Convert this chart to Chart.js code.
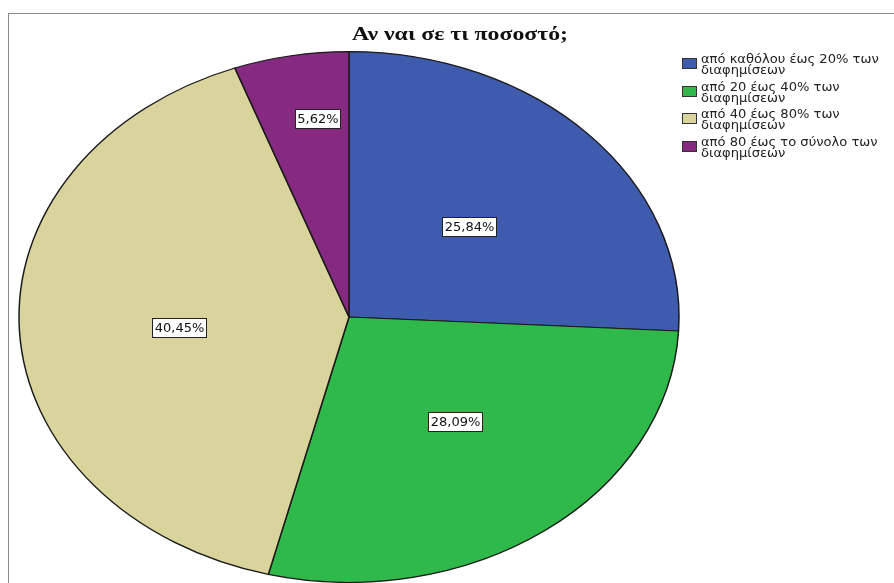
<!DOCTYPE html>
<html>
<head>
<meta charset="utf-8">
<script src="https://cdn.jsdelivr.net/npm/chart.js@4/dist/chart.umd.min.js"></script>
<style>
  html, body { margin: 0; padding: 0; background: #fff; overflow: hidden; }
  #pie { display: block; }
</style>
</head>
<body>
<canvas id="pie" width="894" height="583"></canvas>
<script>
// categories (two lines each, as printed in the legend) and percentages
const titleText = 'Αν ναι σε τι ποσοστό;';
const categories = [
  ['από καθόλου έως 20% των', 'διαφημίσεων'],
  ['από 20 έως 40% των', 'διαφημίσεων'],
  ['από 40 έως 80% των', 'διαφημίσεων'],
  ['από 80 έως το σύνολο των', 'διαφημίσεων']
];
const percents = [25.84, 28.09, 40.45, 5.62];
const sliceColors = ['#3f5bae', '#2eb94a', '#d9d39c', '#852a80'];

const W = 894, H = 583;
const cx = 349, cy = 318;       // pie centre
const ry = 267, rx = 332;       // the pie is stretched into an ellipse
const stretch = rx / ry;

// where each value box sits: fraction of the radius along the mid angle, plus a nudge
const labelSpots = [
  { f: 0.5, dx: 0, dy: 1 },
  { f: 0.5, dx: 8, dy: -2 },
  { f: 0.5, dx: -5, dy: 3 },
  { f: 0.76, dx: 13, dy: 0 }
];

const fmt = v => v.toFixed(2).replace('.', ',') + '%';

// stretch the slices horizontally around the centre
const ellipsePlugin = {
  id: 'ellipse',
  beforeDatasetsDraw(chart) {
    const ctx = chart.ctx;
    const arc = chart.getDatasetMeta(0).data[0];
    ctx.save();
    ctx.translate(arc.x, arc.y);
    ctx.scale(stretch, 1);
    ctx.translate(-arc.x, -arc.y);
  },
  afterDatasetsDraw(chart) {
    chart.ctx.restore();
  }
};

// boxed value labels on each slice
const valueLabels = {
  id: 'valueLabels',
  afterDatasetsDraw(chart) {
    const ctx = chart.ctx;
    const meta = chart.getDatasetMeta(0);
    ctx.save();
    ctx.font = '13px "DejaVu Sans"';
    ctx.textAlign = 'center';
    ctx.textBaseline = 'middle';
    meta.data.forEach((arc, i) => {
      const p = arc.getProps(['x', 'y', 'startAngle', 'endAngle', 'outerRadius'], true);
      const s = labelSpots[i];
      const mid = (p.startAngle + p.endAngle) / 2;
      const x = p.x + Math.cos(mid) * p.outerRadius * s.f * stretch + s.dx;
      const y = p.y + Math.sin(mid) * p.outerRadius * s.f + s.dy;
      const txt = fmt(chart.data.datasets[0].data[i]);
      const w = Math.round(ctx.measureText(txt).width) + 4;
      const h = 19;
      const bx = Math.round(x - w / 2) + 0.5, by = Math.round(y - h / 2) + 0.5;
      ctx.fillStyle = '#fff';
      ctx.fillRect(bx, by, w, h);
      ctx.strokeStyle = '#222';
      ctx.lineWidth = 1;
      ctx.strokeRect(bx, by, w, h);
      ctx.fillStyle = '#111';
      ctx.fillText(txt, bx + w / 2, by + h / 2 + 0.5);
    });
    ctx.restore();
  }
};

// outer frame, title and the legend on the right
const decorations = {
  id: 'decorations',
  afterDraw(chart) {
    const ctx = chart.ctx;
    ctx.save();
    ctx.strokeStyle = '#8a8a8a';
    ctx.lineWidth = 1;
    ctx.strokeRect(8.5, 13.5, 1000, 1000);

    // title, widened to the span of the printed heading
    ctx.fillStyle = '#111';
    ctx.font = 'bold 19px "Liberation Serif"';
    ctx.textAlign = 'center';
    ctx.textBaseline = 'middle';
    const tw = ctx.measureText(titleText).width;
    ctx.save();
    ctx.translate(460, 35);
    ctx.scale(216 / tw, 1);
    ctx.fillText(titleText, 0, 0);
    ctx.restore();

    ctx.font = '12px "DejaVu Sans"';
    ctx.textAlign = 'left';
    chart.data.labels.forEach((lines, i) => {
      const top = 60 + i * 27.6;
      ctx.fillStyle = sliceColors[i];
      ctx.fillRect(682, Math.round(top - 2), 15, 11);
      ctx.strokeStyle = '#333';
      ctx.strokeRect(682.5, Math.round(top - 2) + 0.5, 14, 10);
      ctx.fillStyle = '#222';
      lines.forEach((ln, j) => {
        ctx.save();
        ctx.translate(701, top + j * 11);
        ctx.scale(1.09, 1);
        ctx.fillText(ln, 0, 0);
        ctx.restore();
      });
    });
    ctx.restore();
  }
};

new Chart(document.getElementById('pie'), {
  type: 'pie',
  data: {
    labels: categories,
    datasets: [{
      data: percents,
      backgroundColor: sliceColors,
      borderColor: '#1a1a1a',
      borderWidth: 1.2,
      clip: false
    }]
  },
  options: {
    responsive: false,
    animation: false,
    events: [],
    layout: {
      padding: { left: cx - ry, right: W - (cx + ry), top: cy - ry, bottom: H - (cy + ry) }
    },
    plugins: {
      legend: { display: false },
      title: { display: false },
      tooltip: { enabled: false }
    }
  },
  plugins: [ellipsePlugin, valueLabels, decorations]
});
</script>
</body>
</html>
